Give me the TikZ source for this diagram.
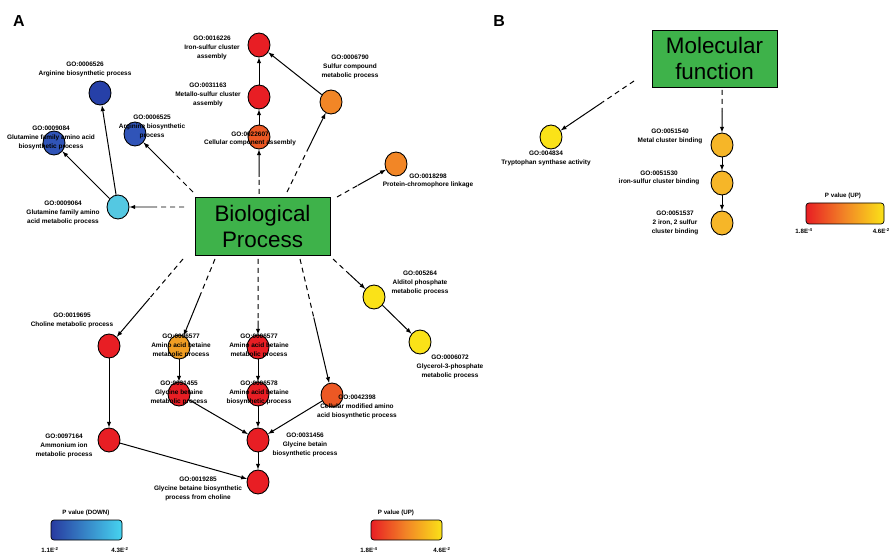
\documentclass[tikz,border=0pt]{standalone}
\usepackage{fontspec}
\setmainfont{Liberation Sans}
\usetikzlibrary{arrows, shapes.geometric, calc, positioning}
\definecolor{goGreen}{RGB}{62,178,74}
\definecolor{goRed}{RGB}{232,30,36}
\definecolor{goRedOr}{RGB}{236,88,36}
\definecolor{goOrange}{RGB}{242,134,38}
\definecolor{goAmber}{RGB}{240,158,36}
\definecolor{goGold}{RGB}{246,182,40}
\definecolor{goYellow}{RGB}{250,226,24}
\definecolor{goNavy}{RGB}{38,64,168}
\definecolor{goBlue}{RGB}{48,84,184}
\definecolor{goCyan}{RGB}{84,200,226}
\definecolor{barDark}{RGB}{40,58,160}
\definecolor{barLight}{RGB}{70,212,240}
\tikzset{
    term/.style={ellipse, draw, line width=0.9pt, inner sep=0pt, minimum width=22bp, minimum height=24bp},
    termTxt/.style={font=\fontsize{6.5}{8.8}\selectfont\bfseries, align=center, inner sep=0pt},
    rootBox/.style={rectangle, draw, line width=0.9pt, fill=goGreen, font=\fontsize{22.5}{27}\selectfont, align=center},
    goEdge/.style={->, >=latex, line width=1pt},
    goDash/.style={line width=1pt, dash pattern=on 5bp off 4bp},
    panel/.style={font=\fontsize{16}{18}\selectfont\bfseries, inner sep=0pt},
    scaleTxt/.style={font=\fontsize{6.2}{8}\selectfont\bfseries, inner sep=0pt},
}
\newcommand{\drawRoot}[3][0.5]{
    % dashed from the root box, solid into the term
    \coordinate (mid) at ($(#2)!#1!(#3)$);
    \draw[goDash] (#2) -- (mid);
    \draw[goEdge] (mid) -- (#3);
}

\begin{document}
\begin{tikzpicture}[x=1bp, y=-1bp]
        \useasboundingbox (0,0) rectangle (891,556);

        \node[panel] (pA) at (19,21) {A};
        \node[panel] (pB) at (499,21) {B};

        % panel A
        \node[rootBox, minimum width=135bp, minimum height=58bp] (bp) at (262.5,226.5) {Biological\\Process};

        \node[term, fill=goNavy] (c6526) at (100,93) {};
        \node[term, fill=goBlue] (c6525) at (135,134) {};
        \node[term, fill=goBlue] (c9084) at (54,143) {};
        \node[term, fill=goCyan] (c9064) at (118,207) {};
        \node[term, fill=goRed] (c16226) at (259,45) {};
        \node[term, fill=goRed] (c31163) at (259,97) {};
        \node[term, fill=goRedOr] (c22607) at (259,137) {};
        \node[term, fill=goOrange] (c6790) at (331,102) {};
        \node[term, fill=goOrange] (c18298) at (396,164) {};
        \node[term, fill=goYellow] (c5264) at (374,297) {};
        \node[term, fill=goYellow] (c6072) at (420,342) {};
        \node[term, fill=goRed] (c19695) at (109,346) {};
        \node[term, fill=goRed] (c97164) at (109,440) {};
        \node[term, fill=goAmber] (c6577a) at (179,347) {};
        \node[term, fill=goRed] (c6455) at (179,394) {};
        \node[term, fill=goRed] (c6577b) at (258,347) {};
        \node[term, fill=goRed] (c6578) at (258,394) {};
        \node[term, fill=goRed] (c31456) at (258,440) {};
        \node[term, fill=goRed] (c19285) at (258,482) {};
        \node[term, fill=goRedOr] (c42398) at (332,395) {};

        \coordinate (s9064) at (184,207);
        \coordinate (s6525) at (193,192);
        \coordinate (s22607) at (259,194);
        \coordinate (s6790) at (287,192);
        \coordinate (s18298) at (337,197);
        \coordinate (s5264) at (333,259);
        \coordinate (s42398) at (300,259);
        \coordinate (s6577b) at (258,259);
        \coordinate (s6577a) at (215,259);
        \coordinate (s19695) at (183,259);

        \drawRoot[0.41]{s9064}{c9064}
        \drawRoot[0.36]{s6525}{c6525}
        \drawRoot[0.3]{s22607}{c22607}
        \drawRoot[0.5]{s6790}{c6790}
        \drawRoot[0.35]{s18298}{c18298}
        \drawRoot[0.4]{s5264}{c5264}
        \drawRoot[0.43]{s42398}{c42398}
        \drawRoot[0.7]{s6577b}{c6577b}
        \drawRoot[0.4]{s6577a}{c6577a}
        \drawRoot[0.45]{s19695}{c19695}

        \draw[goEdge] (c9064) -- (c6526);
        \draw[goEdge] (c9064) -- (c9084);
        \draw[goEdge] (c22607) -- (c31163);
        \draw[goEdge] (c31163) -- (c16226);
        \draw[goEdge] (c6790) -- (c16226);
        \draw[goEdge] (c5264) -- (c6072);
        \draw[goEdge] (c19695) -- (c97164);
        \draw[goEdge] (c97164) -- (c19285);
        \draw[goEdge] (c6577a) -- (c6455);
        \draw[goEdge] (c6577b) -- (c6578);
        \draw[goEdge] (c6578) -- (c31456);
        \draw[goEdge] (c6455) -- (c31456);
        \draw[goEdge] (c42398) -- (c31456);
        \draw[goEdge] (c31456) -- (c19285);

        \node[termTxt] (t6526) at (85,69.5) {GO:0006526\\Arginine biosynthetic process};
        \node[termTxt] (t6525) at (152,127) {GO:0006525\\Arginine biosynthetic\\process};
        \node[termTxt] (t9084) at (51,138) {GO:0009084\\Glutamine family amino acid\\biosynthetic process};
        \node[termTxt] (t9064) at (63,213) {GO:0009064\\Glutamine family amino\\acid metabolic process};
        \node[termTxt] (t16226) at (212,48) {GO:0016226\\Iron-sulfur cluster\\assembly};
        \node[termTxt] (t31163) at (208,95) {GO:0031163\\Metallo-sulfur cluster\\assembly};
        \node[termTxt] (t22607) at (250,139) {GO:0022607\\Cellular component assembly};
        \node[termTxt] (t6790) at (350,67) {GO:0006790\\Sulfur compound\\metabolic process};
        \node[termTxt] (t18298) at (428,181) {GO:0018298\\Protein-chromophore linkage};
        \node[termTxt] (t5264) at (420,283) {GO:005264\\Alditol phosphate\\metabolic process};
        \node[termTxt] (t6072) at (450,367) {GO:0006072\\Glycerol-3-phosphate\\metabolic process};
        \node[termTxt] (t19695) at (72,320.5) {GO:0019695\\Choline metabolic process};
        \node[termTxt] (t97164) at (64,446) {GO:0097164\\Ammonium ion\\metabolic process};
        \node[termTxt] (t6577a) at (181,346) {GO:0006577\\Amino acid betaine\\metabolic process};
        \node[termTxt] (t6455) at (179,393) {GO:0031455\\Glycine betaine\\metabolic process};
        \node[termTxt] (t6577b) at (259,346) {GO:0006577\\Amino acid betaine\\metabolic process};
        \node[termTxt] (t6578) at (259,393) {GO:0006578\\Amino acid betaine\\biosynthetic process};
        \node[termTxt] (t31456) at (305,445) {GO:0031456\\Glycine betain\\biosynthetic process};
        \node[termTxt] (t19285) at (198,489) {GO:0019285\\Glycine betaine biosynthetic\\process from choline};
        \node[termTxt] (t42398) at (357,407) {GO:0042398\\Cellular modified amino\\acid biosynthetic process};

        % colour scales
        \node[scaleTxt] (downTitle) at (86,513) {P value (DOWN)};
        \shadedraw[line width=0.7pt, rounded corners=3bp, left color=barDark, right color=barLight] (51,520) rectangle (122,540);
        \node[scaleTxt] (downLo) at (50,550) {1.1E\textsuperscript{-2}};
        \node[scaleTxt] (downHi) at (120,550) {4.3E\textsuperscript{-2}};

        \node[scaleTxt] (upTitle) at (396,513) {P value (UP)};
        \shadedraw[line width=0.7pt, rounded corners=3bp, left color=goRed, right color=goYellow, middle color=goOrange] (371,520) rectangle (442,540);
        \node[scaleTxt] (upLo) at (369,550) {1.8E\textsuperscript{-4}};
        \node[scaleTxt] (upHi) at (442,550) {4.6E\textsuperscript{-2}};

        % panel B
        \node[rootBox, minimum width=125bp, minimum height=57bp] (mf) at (714.5,58.5) {Molecular\\function};

        \node[term, fill=goYellow] (c4834) at (551,137) {};
        \node[term, fill=goGold] (c51540) at (722,145) {};
        \node[term, fill=goGold] (c51530) at (722,183) {};
        \node[term, fill=goGold] (c51537) at (722,223) {};

        \coordinate (s4834) at (634,81);
        \coordinate (s51540) at (722,90);

        \drawRoot[0.38]{s4834}{c4834}
        \drawRoot[0.4]{s51540}{c51540}
        \draw[goEdge] (c51540) -- (c51530);
        \draw[goEdge] (c51530) -- (c51537);

        \node[termTxt] (t4834) at (546,158.5) {GO:004834\\Tryptophan synthase activity};
        \node[termTxt] (t51540) at (670,136.5) {GO:0051540\\Metal cluster binding};
        \node[termTxt] (t51530) at (659,178) {GO:0051530\\iron-sulfur cluster binding};
        \node[termTxt] (t51537) at (675,223) {GO:0051537\\2 iron, 2 sulfur\\cluster binding};

        \node[scaleTxt] (bTitle) at (843,196) {P value (UP)};
        \shadedraw[line width=0.7pt, rounded corners=3bp, left color=goRed, right color=goYellow, middle color=goOrange] (806,203) rectangle (884,224);
        \node[scaleTxt] (bLo) at (804,231) {1.8E\textsuperscript{-4}};
        \node[scaleTxt, anchor=east] (bHi) at (890,231) {4.6E\textsuperscript{-2}};

    \end{tikzpicture}
\end{document}
